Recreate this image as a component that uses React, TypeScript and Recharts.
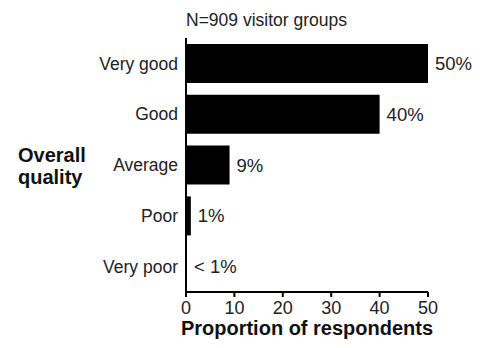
import { BarChart, Bar, XAxis, YAxis, LabelList, Label } from 'recharts';

// Overall quality ratings, N=909 visitor groups
const categories = ['Very good', 'Good', 'Average', 'Poor', 'Very poor'];
const proportions = [50, 40, 9, 1, 0.2];
const valueLabels = ['50%', '40%', '9%', '1%', '< 1%'];
const xTicks = [0, 10, 20, 30, 40, 50];

const data = categories.map((name, i) => ({ name, value: proportions[i], label: valueLabels[i] }));

const font = 'Liberation Sans, Arial, sans-serif';
const textColor = '#222222';

function ValueLabel(props: any) {
  const { x, y, width, height, index } = props;
  return (
    <text
      x={x + width + 7}
      y={y + height / 2}
      dy="0.35em"
      fill={textColor}
      fontSize={18.5}
      fontFamily={font}
    >
      {valueLabels[index]}
    </text>
  );
}

function GroupLabel() {
  return (
    <text fill="#111111" fontSize={20} fontWeight="bold" fontFamily={font}>
      <tspan x={18} y={162}>Overall</tspan>
      <tspan x={18} y={184}>quality</tspan>
    </text>
  );
}

export default function App() {
  return (
    <div style={{ position: 'absolute', left: 0, top: 0, width: 480, height: 348, background: '#fff', fontFamily: font }}>
      <div style={{ position: 'absolute', left: 186, top: 8, fontSize: 17.5, color: textColor, lineHeight: '24px' }}>
        N=909 visitor groups
      </div>
      <BarChart
        width={480}
        height={348}
        data={data}
        layout="vertical"
        margin={{ top: 38, right: 52, bottom: 0, left: 0 }}
        barSize={39}
      >
        <XAxis
          type="number"
          domain={[0, 50]}
          ticks={xTicks}
          height={56}
          axisLine={{ stroke: '#000', strokeWidth: 2 }}
          tickLine={{ stroke: '#000', strokeWidth: 2 }}
          tickSize={5}
          tickMargin={4}
          tick={{ fill: textColor, fontSize: 18, fontFamily: font }}
        >
          <Label
            value="Proportion of respondents"
            position="insideBottom"
            offset={13}
            fill="#111111"
            fontSize={20}
            fontWeight="bold"
            fontFamily={font}
          />
        </XAxis>
        <YAxis
          type="category"
          dataKey="name"
          width={186}
          axisLine={{ stroke: '#000', strokeWidth: 2 }}
          tickLine={false}
          tick={{ fill: textColor, fontSize: 17.5, fontFamily: font }}
          label={<GroupLabel />}
        />
        <Bar dataKey="value" fill="#000000" isAnimationActive={false}>
          <LabelList dataKey="label" content={<ValueLabel />} />
        </Bar>
      </BarChart>
    </div>
  );
}
